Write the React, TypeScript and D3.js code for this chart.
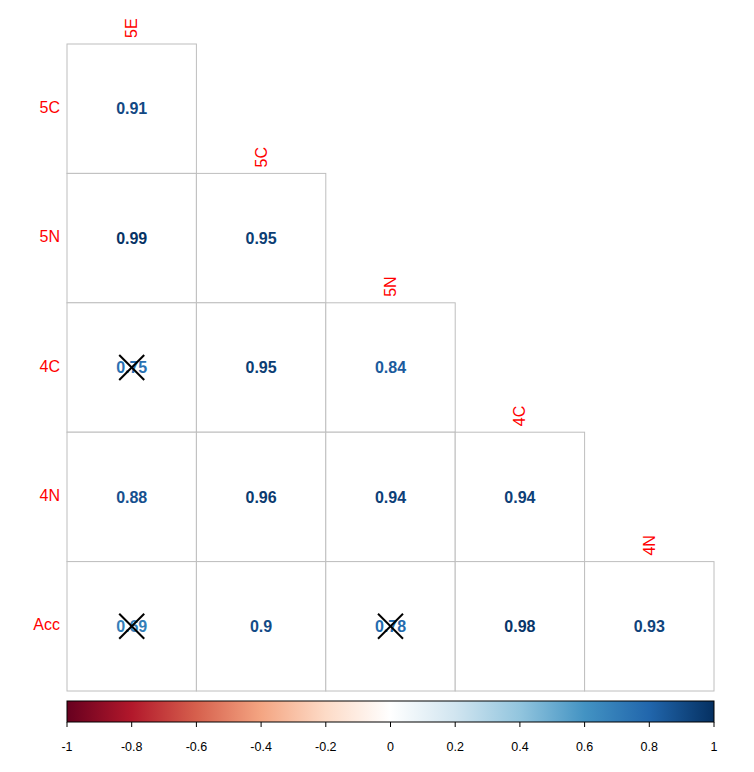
import React from 'react'
import * as d3 from 'd3'

// correlation matrix, lower triangle (rows x columns)
const rowNames = ['5C', '5N', '4C', '4N', 'Acc']
const colNames = ['5E', '5C', '5N', '4C', '4N']
const values: number[][] = [
  [0.91],
  [0.99, 0.95],
  [0.75, 0.95, 0.84],
  [0.88, 0.96, 0.94, 0.94],
  [0.69, 0.9, 0.78, 0.98, 0.93],
]
// cells crossed out (not significant)
const crossed: number[][] = [
  [2, 0],
  [4, 0],
  [4, 2],
]
const legendTicks = [-1, -0.8, -0.6, -0.4, -0.2, 0, 0.2, 0.4, 0.6, 0.8, 1]
const palette = ['#67001F', '#B2182B', '#D6604D', '#F4A582', '#FDDBC7', '#FFFFFF',
  '#D1E5F0', '#92C5DE', '#4393C3', '#2166AC', '#053061']

const App = () => {
  const w = 754
  const h = 772
  const left = 67
  const right = 714
  const top = 44
  const bottom = 691

  const x = d3.scaleBand<string>().domain(colNames).range([left, right])
  const y = d3.scaleBand<string>().domain(rowNames).range([top, bottom])
  const bw = x.bandwidth()

  const color = d3.scaleLinear<string>()
    .domain(d3.range(palette.length).map(i => -1 + (2 * i) / (palette.length - 1)))
    .range(palette)
    .interpolate(d3.interpolateRgb)

  // legend
  const barTop = 701
  const barH = 21
  const lx = d3.scaleLinear().domain([-1, 1]).range([left, right])
  const font = 'Liberation Sans, Arial, sans-serif'

  const cells: { i: number; j: number; v: number }[] = []
  values.forEach((row, i) => row.forEach((v, j) => cells.push({ i, j, v })))

  return (
    <svg width={w} height={h} style={{ position: 'absolute', left: 0, top: 0 }}>
      <defs>
        <linearGradient id="corrGrad" x1="0" x2="1" y1="0" y2="0">
          {palette.map((c, k) => (
            <stop key={k} offset={`${(k / (palette.length - 1)) * 100}%`} stopColor={c} />
          ))}
        </linearGradient>
      </defs>
      <rect x={0} y={0} width={w} height={h} fill="#fff" />

      {cells.map(({ i, j }) => (
        <rect key={`r${i}-${j}`} x={x(colNames[j])} y={y(rowNames[i])} width={bw} height={bw}
          fill="#fff" stroke="#BEBEBE" strokeWidth={1} />
      ))}

      {cells.map(({ i, j, v }) => (
        <text key={`t${i}-${j}`} x={x(colNames[j])! + bw / 2} y={y(rowNames[i])! + bw / 2}
          dy="0.36em" textAnchor="middle" fontFamily={font} fontWeight="bold" fontSize={16}
          fill={color(v)}>{String(v)}</text>
      ))}

      {crossed.map(([i, j]) => {
        const cx = x(colNames[j])! + bw / 2
        const cy = y(rowNames[i])! + bw / 2
        const s = 12.5
        return (
          <g key={`x${i}-${j}`} stroke="#000" strokeWidth={2}>
            <line x1={cx - s} y1={cy - s} x2={cx + s} y2={cy + s} />
            <line x1={cx - s} y1={cy + s} x2={cx + s} y2={cy - s} />
          </g>
        )
      })}

      {rowNames.map(r => (
        <text key={r} x={60} y={y(r)! + bw / 2} dy="0.26em" textAnchor="end"
          fontFamily={font} fontSize={16} fill="#FF0000">{r}</text>
      ))}

      {colNames.map((c, j) => {
        const cx = x(c)! + bw / 2
        const cy = y(rowNames[j])! - 6
        return (
          <text key={c} transform={`translate(${cx + 5.5},${cy}) rotate(-90)`}
            fontFamily={font} fontSize={16} fill="#FF0000">{c}</text>
        )
      })}

      <rect x={left} y={barTop} width={right - left} height={barH} fill="url(#corrGrad)"
        stroke="#000" strokeWidth={1} />
      {legendTicks.map(t => (
        <g key={t}>
          <line x1={lx(t)} x2={lx(t)} y1={barTop + barH} y2={barTop + barH + 5} stroke="#000" />
          <text x={lx(t)} y={751} textAnchor="middle" fontFamily={font} fontSize={12.5}
            fill="#000">{String(t)}</text>
        </g>
      ))}
    </svg>
  )
}

export default App
